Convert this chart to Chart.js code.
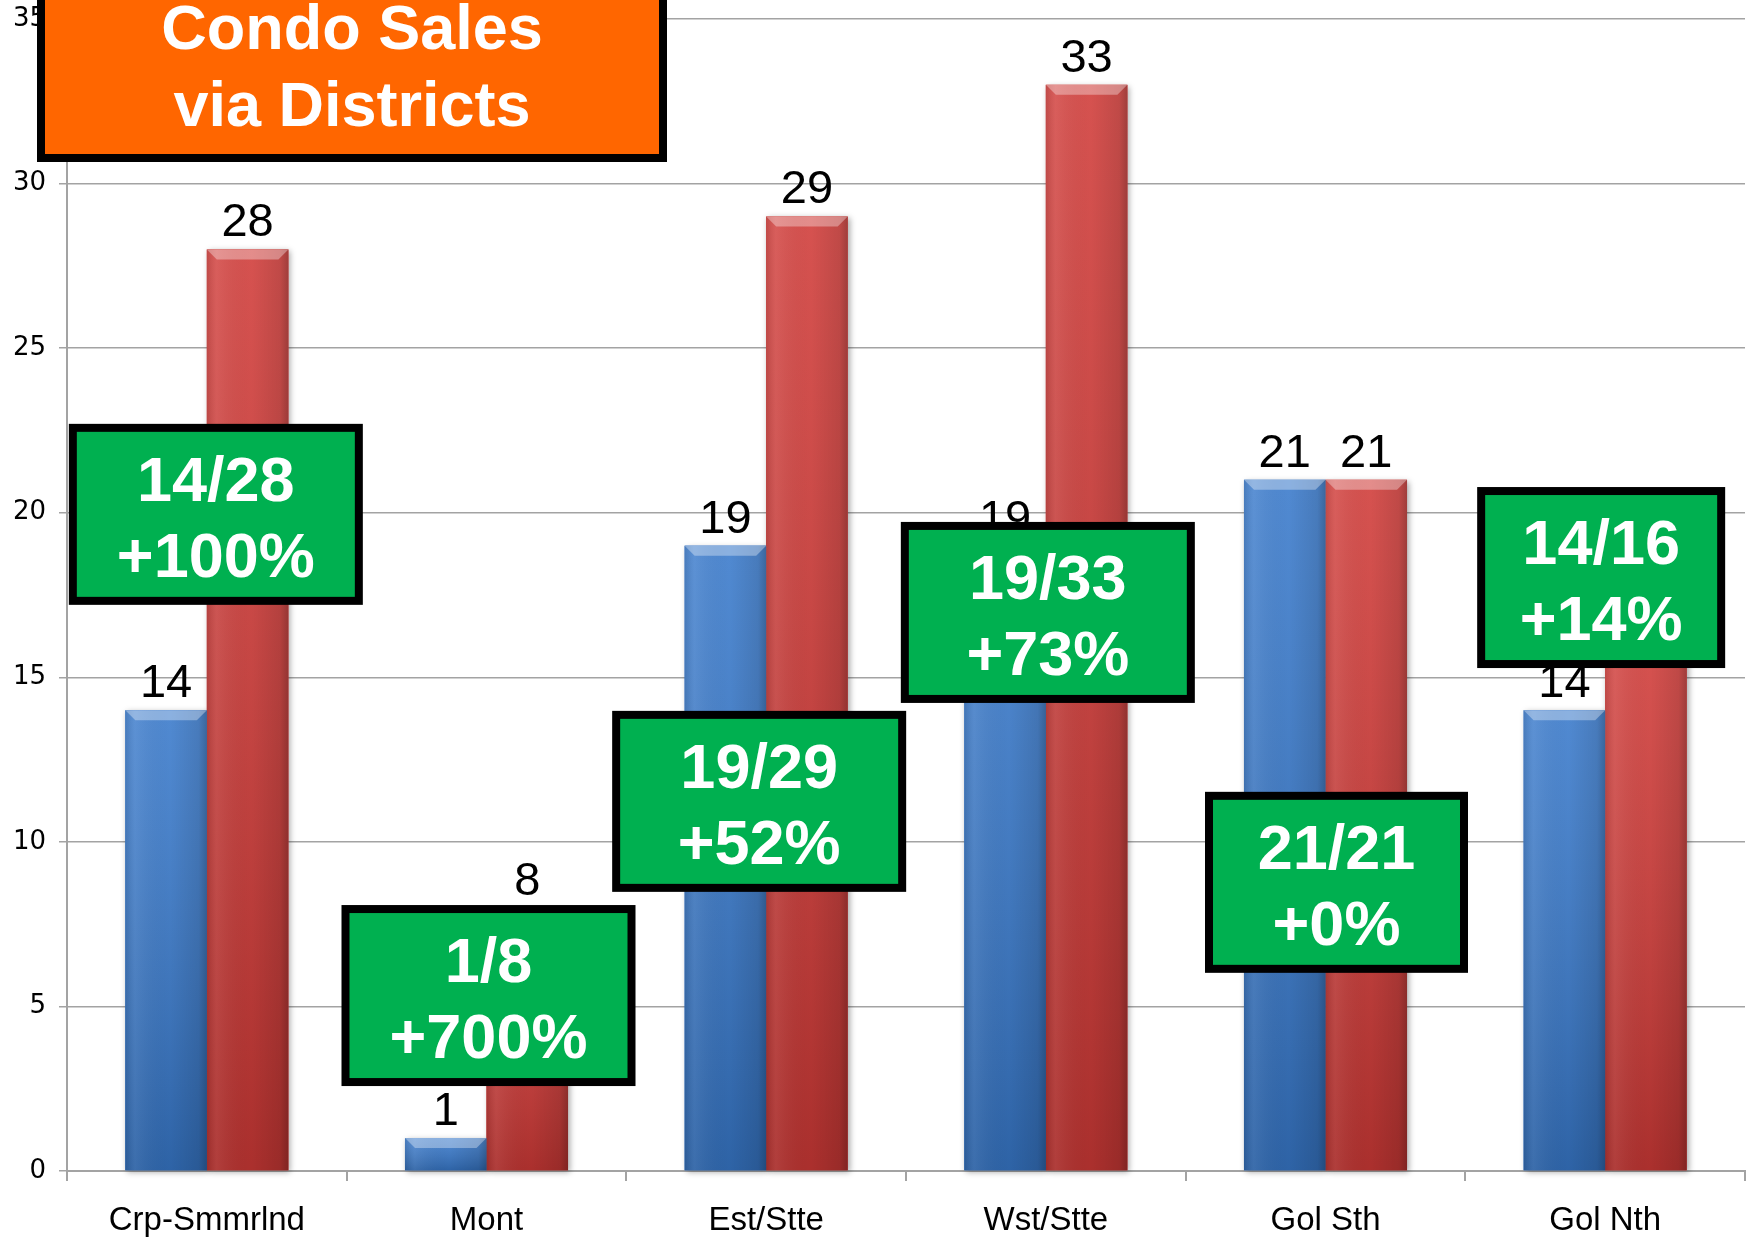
<!DOCTYPE html>
<html>
<head>
<meta charset="utf-8">
<title>Condo Sales via Districts</title>
<script src="https://cdn.jsdelivr.net/npm/chart.js@4.4.1/dist/chart.umd.min.js"></script>
<style>
  html, body { margin: 0; padding: 0; background: #fff; overflow: hidden; }
  #wrap { width: 1752px; height: 1238px; }
</style>
</head>
<body>
<div id="wrap"><canvas id="chart"></canvas></div>
<script>
const districts = ['Crp-Smmrlnd', 'Mont', 'Est/Stte', 'Wst/Stte', 'Gol Sth', 'Gol Nth'];
const salesBefore = [14, 1, 19, 19, 21, 14];
const salesAfter = [28, 8, 29, 33, 21, 16];
const yTicks = [0, 5, 10, 15, 20, 25, 30, 35];
const boxRatio = ['14/28', '1/8', '19/29', '19/33', '21/21', '14/16'];
const boxChange = ['+100%', '+700%', '+52%', '+73%', '+0%', '+14%'];
const titleLines = ['Condo Sales', 'via Districts'];

// callout placement: top edge in axis units, nudge in px off the category centre
const boxTopAt = [22.7, 8.08, 13.98, 19.72, 11.52, 20.78];
const boxNudge = [9, 2, -7, 2, 11, -4];
const boxWidth = [294, 294, 294, 294, 263, 248];

const BLUE = '#3879cb';
const RED = '#d03a37';
const GRID = '#a3a3a3';
const SANS = '"Liberation Sans", Arial, sans-serif';

function barBox(bar) {
  const p = bar.getProps(['x', 'y', 'base', 'width'], true);
  return { l: p.x - p.width / 2, r: p.x + p.width / 2, t: p.y, b: p.base, w: p.width, x: p.x };
}

// fake the office-style 3D bevel on top of the flat bars
const barLook = {
  id: 'barLook',
  beforeDatasetsDraw(chart) {
    const ctx = chart.ctx;
    ctx.save();
    ctx.shadowColor = 'rgba(0,0,0,0.35)';
    ctx.shadowBlur = 6;
    ctx.shadowOffsetX = 2;
    ctx.shadowOffsetY = 2;
    chart.data.datasets.forEach((ds, di) => {
      chart.getDatasetMeta(di).data.forEach(bar => {
        const b = barBox(bar);
        ctx.fillStyle = ds.backgroundColor;
        ctx.fillRect(b.l, b.t, b.w, b.b - b.t);
      });
    });
    ctx.restore();
  },
  afterDatasetsDraw(chart) {
    const ctx = chart.ctx;
    ctx.save();
    chart.data.datasets.forEach((ds, di) => {
      chart.getDatasetMeta(di).data.forEach(bar => {
        const b = barBox(bar);
        const h = b.b - b.t;
        let g = ctx.createLinearGradient(0, b.t, 0, b.b);
        g.addColorStop(0, 'rgba(255,255,255,0.12)');
        g.addColorStop(1, 'rgba(0,0,0,0.18)');
        ctx.fillStyle = g;
        ctx.fillRect(b.l, b.t, b.w, h);

        g = ctx.createLinearGradient(b.l, 0, b.r, 0);
        g.addColorStop(0, 'rgba(0,0,0,0.10)');
        g.addColorStop(0.12, 'rgba(255,255,255,0.07)');
        g.addColorStop(0.55, 'rgba(0,0,0,0)');
        g.addColorStop(0.9, 'rgba(0,0,0,0.10)');
        g.addColorStop(1, 'rgba(0,0,0,0.25)');
        ctx.fillStyle = g;
        ctx.fillRect(b.l, b.t, b.w, h);

        const bv = Math.min(10, h);
        ctx.beginPath();
        ctx.moveTo(b.l, b.t);
        ctx.lineTo(b.r, b.t);
        ctx.lineTo(b.r - bv, b.t + bv);
        ctx.lineTo(b.l + bv, b.t + bv);
        ctx.closePath();
        ctx.fillStyle = 'rgba(255,255,255,0.34)';
        ctx.fill();
      });
    });

    ctx.fillStyle = '#000';
    ctx.font = '47px ' + SANS;
    ctx.textAlign = 'center';
    ctx.textBaseline = 'alphabetic';
    chart.data.datasets.forEach((ds, di) => {
      chart.getDatasetMeta(di).data.forEach((bar, i) => {
        ctx.fillText(String(ds.data[i]), bar.x, bar.y - 13);
      });
    });
    ctx.restore();
  },
  afterDraw(chart) {
    const ctx = chart.ctx;
    const xs = chart.scales.x, ys = chart.scales.y;
    ctx.save();
    ctx.textAlign = 'center';
    ctx.textBaseline = 'alphabetic';

    // green callouts
    boxRatio.forEach((txt, i) => {
      const cx = xs.getPixelForValue(i) + boxNudge[i];
      const top = ys.getPixelForValue(boxTopAt[i]);
      const w = boxWidth[i], h = 181, bw = 8;
      ctx.fillStyle = '#000';
      ctx.fillRect(cx - w / 2, top, w, h);
      ctx.fillStyle = '#00b050';
      ctx.fillRect(cx - w / 2 + bw, top + bw, w - 2 * bw, h - 2 * bw);
      ctx.fillStyle = '#fff';
      ctx.font = 'bold 63px ' + SANS;
      ctx.fillText(txt, cx, top + 77);
      ctx.fillText(boxChange[i], cx, top + 153);
    });

    // orange title box, top edge runs off the canvas
    ctx.fillStyle = '#000';
    ctx.fillRect(37, -10, 630, 172);
    ctx.fillStyle = '#ff6600';
    ctx.fillRect(45, -10, 614, 164);
    ctx.fillStyle = '#fff';
    ctx.font = 'bold 63px ' + SANS;
    ctx.fillText(titleLines[0], 352, 49);
    ctx.fillText(titleLines[1], 352, 126);
    ctx.restore();
  }
};

new Chart(document.getElementById('chart'), {
  type: 'bar',
  data: {
    labels: districts,
    datasets: [
      { label: 'Before', data: salesBefore, backgroundColor: BLUE, borderWidth: 0 },
      { label: 'After', data: salesAfter, backgroundColor: RED, borderWidth: 0 }
    ]
  },
  options: {
    responsive: true,
    maintainAspectRatio: false,
    animation: false,
    layout: { padding: { top: 19, right: 7, left: 0, bottom: 0 } },
    datasets: { bar: { categoryPercentage: 0.583, barPercentage: 1 } },
    plugins: { legend: { display: false }, tooltip: { enabled: false }, title: { display: false } },
    scales: {
      x: {
        afterFit: (s) => { s.height = 67; s.paddingLeft = 0; s.paddingRight = 0; },
        grid: { drawOnChartArea: false, drawTicks: true, tickLength: 10, offset: true, color: GRID, lineWidth: 2 },
        border: { color: GRID, width: 2 },
        ticks: { color: '#000', padding: 20, font: { family: SANS, size: 33 } }
      },
      y: {
        min: 0,
        max: 35,
        afterFit: (s) => { s.width = 67; s.paddingTop = 0; s.paddingBottom = 0; },
        afterBuildTicks: (s) => { s.ticks = yTicks.map(v => ({ value: v })); },
        grid: { color: GRID, lineWidth: 1.5, tickLength: 8 },
        border: { color: GRID, width: 2 },
        ticks: { color: '#000', padding: 13, font: { family: '"DejaVu Sans", Verdana, sans-serif', size: 26 } }
      }
    }
  },
  plugins: [barLook]
});
</script>
</body>
</html>
